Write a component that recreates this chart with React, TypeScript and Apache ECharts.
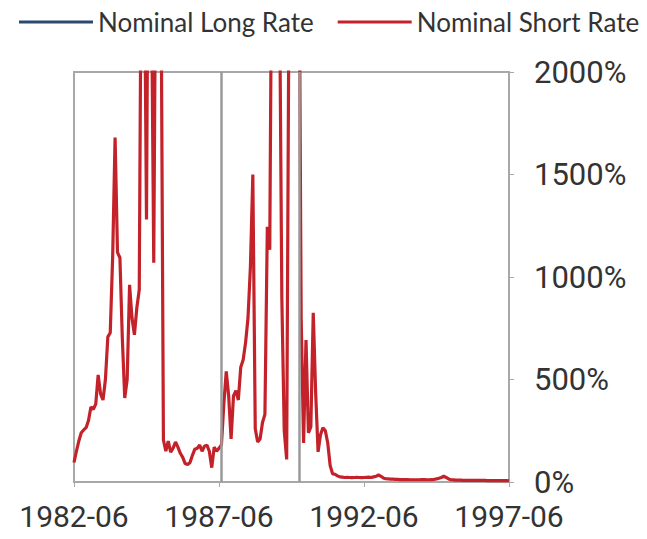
import React, { useEffect, useRef } from "react";
import * as echarts from "echarts";

// Monthly categories 1982-06 .. 1997-06
const startYear = 1982;
const startMonth = 6;
const monthCount = 181;
const categories: string[] = [];
for (let i = 0; i < monthCount; i++) {
  const m = startMonth - 1 + i;
  const y = startYear + Math.floor(m / 12);
  const mm = (m % 12) + 1;
  categories.push(`${y}-${mm < 10 ? "0" + mm : mm}`);
}

const seriesNames = ["Nominal Long Rate", "Nominal Short Rate"];

// Nominal Long Rate: no visible values in the reference
const longRate: (number | null)[] = [];

// Nominal Short Rate (%) (values above 2000 are clipped)
const shortRate: number[] = [
  95, 150, 200, 240, 254, 265, 300, 366, 355, 380,
  522, 430, 400, 500, 708, 728, 1100, 1680, 1120, 1094,
  700, 410, 500, 962, 800, 718, 850, 938,
  3000, 2800, 1280, 3500, 2500, 1070, 3000, 4000, 2500, 205, 150,
  200, 145, 165, 195, 170, 140, 120, 90, 85, 95,
  130, 160, 165, 180, 150, 175, 180, 150, 70, 170,
  150, 165, 180,
  380, 540, 420, 210, 420, 445, 400, 560, 596, 680,
  800, 1050, 1500, 260, 195, 210, 290, 330, 1245, 1133,
  3000, 4000, 3500, 2500, 900, 250, 110, 2500, 4000, 5000,
  4000, 3000, 800,
  190, 693, 240, 269, 825, 435, 147, 230, 265, 250,
  190, 80, 40, 38, 30,
  25, 24, 22, 23, 22, 21, 22, 23, 22, 21, 22, 23, 24, 22, 25, 28,
  35,
  28, 20, 16, 15, 14, 14, 13, 13, 12, 12, 12, 12, 11, 11, 11, 11, 11, 12, 12, 11,
  11, 12, 13, 15, 18, 22,
  28,
  22, 15, 11, 10, 9, 9, 9, 8, 8, 8, 8, 8, 8, 8, 8, 8, 8, 7, 7, 7,
  7, 7, 7, 7, 7, 7, 6,
];

// Vertical reference lines
const eventMonths = ["1987-07", "1990-03"];

const yTicks = { min: 0, max: 2000, interval: 500 };

const FONT = "Roboto";
const LEGEND_FONT = "Lato";
const TEXT = "#333333";
const GRAY = "#a8a8a8";

export default function App() {
  const ref = useRef<HTMLDivElement>(null);
  useEffect(() => {
    if (!ref.current) return;
    const chart = echarts.init(ref.current, null, { renderer: "svg" });
    chart.setOption({
      animation: false,
      backgroundColor: "#ffffff",
      textStyle: { fontFamily: FONT },
      legend: {
        data: seriesNames,
        left: 14,
        top: 4,
        width: 640,
        icon: "rect",
        itemWidth: 74,
        itemHeight: 3,
        itemGap: 24,
        textStyle: { fontFamily: LEGEND_FONT, fontSize: 26, color: TEXT },
      },
      grid: {
        left: 74,
        right: 138,
        top: 72,
        bottom: 57,
        show: true,
        borderColor: GRAY,
        borderWidth: 2,
      },
      xAxis: {
        type: "category",
        data: categories,
        boundaryGap: false,
        axisLine: { show: true, lineStyle: { color: GRAY, width: 2 } },
        axisTick: { show: true, interval: 59, length: 5, lineStyle: { color: GRAY } },
        axisLabel: {
          interval: 59,
          fontFamily: FONT,
          fontSize: 30,
          lineHeight: 30,
          color: TEXT,
          margin: 19,
        },
        splitLine: { show: false },
      },
      yAxis: {
        type: "value",
        position: "right",
        min: yTicks.min,
        max: yTicks.max,
        interval: yTicks.interval,
        axisLine: { show: true, lineStyle: { color: GRAY, width: 2 } },
        axisTick: { show: true, length: 5, lineStyle: { color: GRAY } },
        axisLabel: {
          formatter: (v: number) => `${v}%`,
          fontFamily: FONT,
          fontSize: 31,
          lineHeight: 30,
          color: TEXT,
          margin: 25,
        },
        splitLine: { show: false },
      },
      series: [
        {
          name: seriesNames[0],
          type: "line",
          data: longRate,
          showSymbol: false,
          itemStyle: { color: "#2b4a72" },
          lineStyle: { color: "#2b4a72", width: 3 },
        },
        {
          name: seriesNames[1],
          type: "line",
          data: shortRate,
          showSymbol: false,
          clip: true,
          itemStyle: { color: "#c4222a" },
          lineStyle: { color: "#c4222a", width: 3.2 },
          markLine: {
            silent: true,
            symbol: ["none", "none"],
            label: { show: false },
            lineStyle: { color: "#9a9a9a", width: 2.5, type: "solid" },
            data: eventMonths.map((m) => ({ xAxis: m })),
          },
        },
      ],
    });
    return () => chart.dispose();
  }, []);
  return (
    <div
      ref={ref}
      style={{ position: "fixed", left: 0, top: 0, width: 647, height: 539 }}
    />
  );
}
